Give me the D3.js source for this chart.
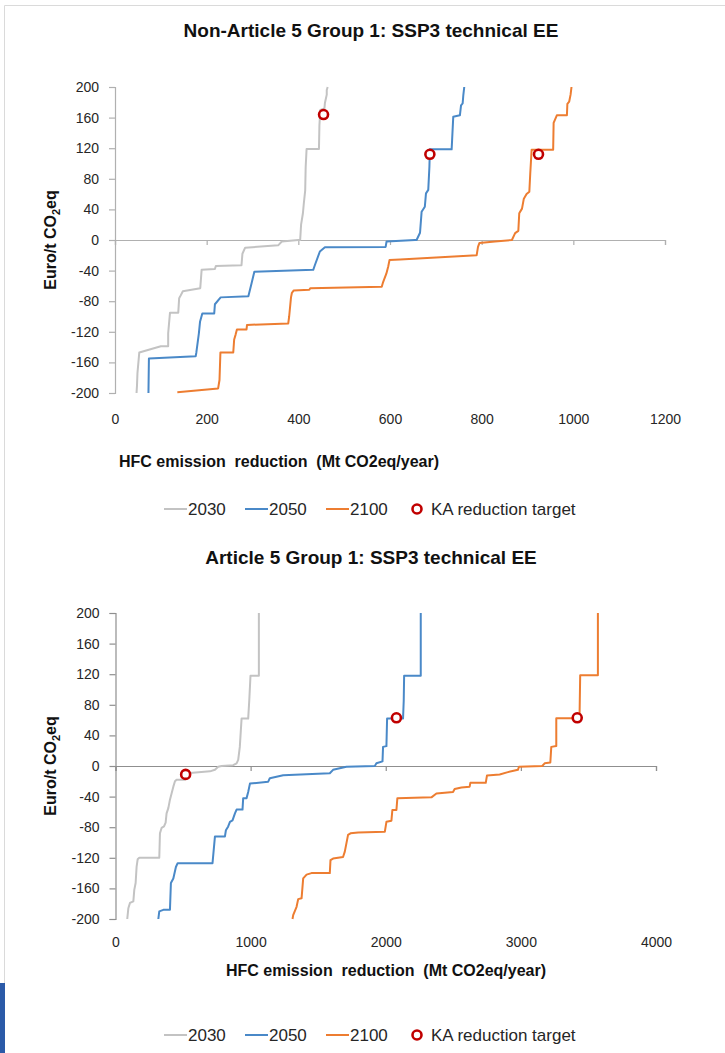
<!DOCTYPE html>
<html>
<head>
<meta charset="utf-8">
<script src="https://cdn.jsdelivr.net/npm/d3@7"></script>
<style>
  body { margin: 0; background: #fff; }
  svg { display: block; font-family: 'Liberation Sans', Arial, sans-serif; }
</style>
</head>
<body>
<svg id="page"></svg>
<script>
// ---- data ----
const years = ['2030', '2050', '2100'];
const yTicks = [-200, -160, -120, -80, -40, 0, 40, 80, 120, 160, 200];
const nonA5XTicks = [0, 200, 400, 600, 800, 1000, 1200];
const a5XTicks = [0, 1000, 2000, 3000, 4000];

// Non-Article 5 Group 1 (Mt CO2eq/year, Euro/t CO2eq)
const nonA5_2030_x = [47, 48, 49, 53, 100, 116, 116, 120, 138, 140, 142, 148, 186, 189, 218, 220, 276, 278, 284, 356, 364, 400, 404, 406, 410, 412, 415, 416, 418, 445, 446, 448, 457, 458, 462, 462, 464];
const nonA5_2030_y = [-200, -190, -174, -147, -139, -139, -122, -95, -95, -76, -74, -67, -63, -39, -38, -34, -33, -18, -10, -7, -2, 0, 0, 20, 35, 48, 65, 95, 119, 119, 150, 170, 172, 179, 190, 196, 200];
const nonA5_2050_x = [73, 74, 176, 177.5, 183, 185.5, 190.5, 216.5, 218, 230.5, 291, 298, 304, 432.5, 436, 447, 458, 590.5, 592.5, 654.5, 658, 665.5, 669, 676, 678.5, 683.5, 686, 687, 734.5, 735.5, 738, 752.5, 755, 758.5, 760, 762];
const nonA5_2050_y = [-200, -155, -152, -147, -122, -107, -96, -96, -84, -75, -73.5, -56.5, -41.5, -39, -33, -15, -9.5, -9, -2, 0, 0, 9.5, 37, 43.5, 61, 65.5, 96, 118.5, 118.5, 130.5, 161, 163, 176, 178.5, 189.5, 200];
const nonA5_2100_x = [136, 225, 228, 230, 258, 260, 263, 266, 287, 288, 378, 380, 384, 386, 390, 424, 426, 582, 585, 592, 596, 599, 622, 789, 792, 795, 829, 866, 873, 880, 882, 888, 892, 898, 904, 906, 909, 956, 957, 964, 986, 987, 991, 994, 996];
const nonA5_2100_y = [-199, -194, -183, -147, -147, -130, -124, -117, -117, -111, -109, -100, -75, -69, -66, -65, -63, -61, -55, -44, -35, -26, -25.5, -20, -9, -4, -2, 0, 9, 12, 35, 41, 54, 60, 63, 87, 118, 118, 153, 163, 163, 178, 181, 190, 200];
const nonA5TargetX = [455, 687, 924];
const nonA5TargetY = [164, 112, 112];

// Article 5 Group 1
const a5_2030_x = [87, 95, 107, 132, 139, 149, 156, 164, 176, 324, 329, 341, 359, 371, 378, 391, 403, 415, 428, 440, 452, 510, 515, 551, 699, 736, 760, 785, 871, 896, 908, 920, 933, 982, 990, 999, 1061, 1061];
const a5_2030_y = [-200, -186, -179, -177, -162, -153, -132, -122, -120, -120, -88, -81, -79, -74, -62, -55, -44, -36, -27, -20, -18, -18, -10, -9, -7, -5, -1, 0, 1, 3.5, 8, 25, 62, 62, 86, 118, 118, 200];
const a5_2050_x = [317, 324, 354, 403, 410, 428, 447, 460, 718, 736, 810, 817, 834, 847, 866, 884, 896, 940, 945, 970, 982, 995, 1130, 1142, 1241, 1586, 1610, 1709, 1919, 1931, 1976, 1980, 2005, 2010, 2128, 2133, 2136, 2259, 2259];
const a5_2050_y = [-200, -190, -188, -188, -153, -147, -132, -127, -127, -92, -92, -84, -79, -73, -71, -62, -57, -57, -42, -42, -34, -23, -20.5, -16, -12, -9.5, -5, -1, 0, 3.5, 6, 25, 26, 62, 62, 85, 118, 118, 200];
const a5_2100_x = [1310, 1315, 1340, 1352, 1377, 1389, 1414, 1450, 1586, 1591, 1610, 1684, 1697, 1721, 1739, 1796, 1993, 2005, 2042, 2049, 2079, 2086, 2338, 2375, 2498, 2510, 2560, 2621, 2626, 2740, 2749, 2843, 2904, 2954, 2978, 2986, 3158, 3176, 3218, 3225, 3262, 3262, 3434, 3439, 3570, 3570];
const a5_2100_y = [-200, -195, -184, -174, -173, -147, -142, -140, -140, -123, -121, -119, -112, -90, -88, -87, -86, -73, -71.5, -57.5, -57.5, -42, -41, -36, -34, -30, -28, -27, -22, -22, -12.5, -11, -8, -6, -5, -1, 0, 3.5, 4.5, 25, 26, 62.5, 62.5, 118.5, 118.5, 200];
const a5TargetX = [519, 2079, 3417];
const a5TargetY = [-11, 63, 63];

const lineColours = ['#C3C3C3', '#4A89C8', '#ED7D31'];
const targetColour = '#C00000';

class CostCurveChart {

    constructor(_config, _series, _targets) {
      this.config = {
        parentElement: _config.parentElement,
        title: _config.title,
        titleY: _config.titleY,
        plot: _config.plot,               // {left, right, top, bottom} in page pixels
        xDomain: _config.xDomain,
        xTicks: _config.xTicks,
        xLabelPadding: _config.xLabelPadding,
        xTitleX: _config.xTitleX,
        xTitleY: _config.xTitleY,
        xTitleAnchor: _config.xTitleAnchor || 'middle',
        legendY: _config.legendY,
        axisColour: _config.axisColour || '#A6A6A6'
      };
      this.series = _series;
      this.targets = _targets;
      this.initVis();
    }

    initVis() {
      let vis = this;
      const p = vis.config.plot;

      vis.xScale = d3.scaleLinear().domain(vis.config.xDomain).range([p.left, p.right]);
      vis.yScale = d3.scaleLinear().domain([-200, 200]).range([p.bottom, p.top]);

      vis.g = d3.select(vis.config.parentElement).append('g');

      // chart title
      vis.g.append('text')
        .attr('x', 371)
        .attr('y', vis.config.titleY)
        .attr('dy', '0.35em')
        .attr('text-anchor', 'middle')
        .style('font-size', '19px')
        .style('font-weight', 'bold')
        .style('fill', '#111')
        .text(vis.config.title);

      // y axis
      vis.yAxis = d3.axisLeft(vis.yScale)
        .tickValues(yTicks)
        .tickSize(6)
        .tickPadding(10)
        .tickFormat(d => String(d));

      // x axis sits on the zero line, labels go below the plot
      vis.xAxis = d3.axisBottom(vis.xScale)
        .tickValues(vis.config.xTicks)
        .tickSize(5)
        .tickSizeOuter(5)
        .tickFormat('');

      vis.xLabels = d3.axisBottom(vis.xScale)
        .tickValues(vis.config.xTicks)
        .tickSize(0)
        .tickPadding(vis.config.xLabelPadding)
        .tickFormat(d => String(d));

      vis.yAxisG = vis.g.append('g')
        .attr('transform', `translate(${p.left},0)`);
      vis.xAxisG = vis.g.append('g')
        .attr('transform', `translate(0,${vis.yScale(0)})`);
      vis.xLabelG = vis.g.append('g')
        .attr('transform', `translate(0,${p.bottom})`);

      // axis titles
      const yt = vis.g.append('text')
        .attr('transform', `translate(50,${(p.top + p.bottom) / 2}) rotate(-90)`)
        .attr('dy', '0.35em')
        .attr('text-anchor', 'middle')
        .style('font-size', '16px')
        .style('font-weight', 'bold')
        .style('fill', '#111');
      yt.append('tspan').text('Euro/t CO');
      yt.append('tspan').attr('dy', 4).style('font-size', '11px').text('2');
      yt.append('tspan').attr('dy', -4).text('eq');

      vis.g.append('text')
        .attr('x', vis.config.xTitleX)
        .attr('y', vis.config.xTitleY)
        .attr('dy', '0.35em')
        .attr('text-anchor', vis.config.xTitleAnchor)
        .style('font-size', '16px')
        .style('font-weight', 'bold')
        .style('white-space', 'pre')
        .style('fill', '#111')
        .text('HFC emission  reduction  (Mt CO2eq/year)');

      vis.renderVis();
    }

    renderVis() {
      let vis = this;

      vis.yAxisG.call(vis.yAxis);
      vis.xAxisG.call(vis.xAxis);
      vis.xLabelG.call(vis.xLabels)
        .call(g => g.select('.domain').remove());

      [vis.yAxisG, vis.xAxisG].forEach(g => {
        g.selectAll('.domain, .tick line').attr('stroke', vis.config.axisColour).attr('stroke-width', 1.2);
      });
      [vis.yAxisG, vis.xLabelG].forEach(g => {
        g.selectAll('text').style('font-size', '14px').style('font-family', 'inherit').attr('fill', '#262626');
      });

      const line = d3.line()
        .x(d => vis.xScale(d[0]))
        .y(d => vis.yScale(d[1]));

      vis.g.selectAll('.curve')
        .data(vis.series)
        .join('path')
        .attr('class', 'curve')
        .attr('d', d => line(d3.zip(d.x, d.y)))
        .attr('fill', 'none')
        .attr('stroke', d => d.colour)
        .attr('stroke-width', 2)
        .attr('stroke-linejoin', 'round');

      vis.g.selectAll('.target')
        .data(d3.zip(vis.targets.x, vis.targets.y))
        .join('circle')
        .attr('class', 'target')
        .attr('cx', d => vis.xScale(d[0]))
        .attr('cy', d => vis.yScale(d[1]))
        .attr('r', 4.5)
        .attr('fill', '#fff')
        .attr('stroke', targetColour)
        .attr('stroke-width', 2.6);

      // legend
      const legX = [164, 245, 326];
      const lg = vis.g.append('g').attr('transform', `translate(0,${vis.config.legendY})`);
      years.forEach((yr, i) => {
        lg.append('line')
          .attr('x1', legX[i]).attr('x2', legX[i] + 23)
          .attr('stroke', lineColours[i]).attr('stroke-width', 2);
        lg.append('text')
          .attr('x', legX[i] + 24).attr('dy', '0.35em')
          .style('font-size', '17px').style('fill', '#262626')
          .text(yr);
      });
      lg.append('circle')
        .attr('cx', 417).attr('r', 4.5)
        .attr('fill', '#fff').attr('stroke', targetColour).attr('stroke-width', 2.6);
      lg.append('text')
        .attr('x', 431).attr('dy', '0.35em')
        .style('font-size', '17px').style('fill', '#262626')
        .text('KA reduction target');
    }
}

const svg = d3.select('#page').attr('width', 725).attr('height', 1053);

// faint frame of the original document and the blue margin mark
svg.append('path')
  .attr('d', 'M4.5,983V5.5H725')
  .attr('fill', 'none')
  .attr('stroke', '#DADADA');
svg.append('rect')
  .attr('x', 0).attr('y', 983).attr('width', 5).attr('height', 70)
  .attr('fill', '#2B5AA8');

const makeSeries = (xs, ys) => years.map((yr, i) => ({ name: yr, x: xs[i], y: ys[i], colour: lineColours[i] }));

new CostCurveChart({
  parentElement: '#page',
  title: 'Non-Article 5 Group 1: SSP3 technical EE',
  titleY: 30,
  plot: { left: 115, right: 665, top: 87, bottom: 393 },
  xDomain: [0, 1200],
  xTicks: nonA5XTicks,
  xLabelPadding: 21,
  xTitleX: 119,
  xTitleY: 461,
  xTitleAnchor: 'start',
  legendY: 509,
  axisColour: '#B0B0B0'
}, makeSeries([nonA5_2030_x, nonA5_2050_x, nonA5_2100_x], [nonA5_2030_y, nonA5_2050_y, nonA5_2100_y]),
   { x: nonA5TargetX, y: nonA5TargetY });

new CostCurveChart({
  parentElement: '#page',
  title: 'Article 5 Group 1: SSP3 technical EE',
  titleY: 557,
  plot: { left: 115.5, right: 656, top: 613, bottom: 919 },
  xDomain: [0, 4000],
  xTicks: a5XTicks,
  xLabelPadding: 18,
  xTitleX: 386,
  xTitleY: 970,
  legendY: 1035,
  axisColour: '#8F8F8F'
}, makeSeries([a5_2030_x, a5_2050_x, a5_2100_x], [a5_2030_y, a5_2050_y, a5_2100_y]),
   { x: a5TargetX, y: a5TargetY });
</script>
</body>
</html>
